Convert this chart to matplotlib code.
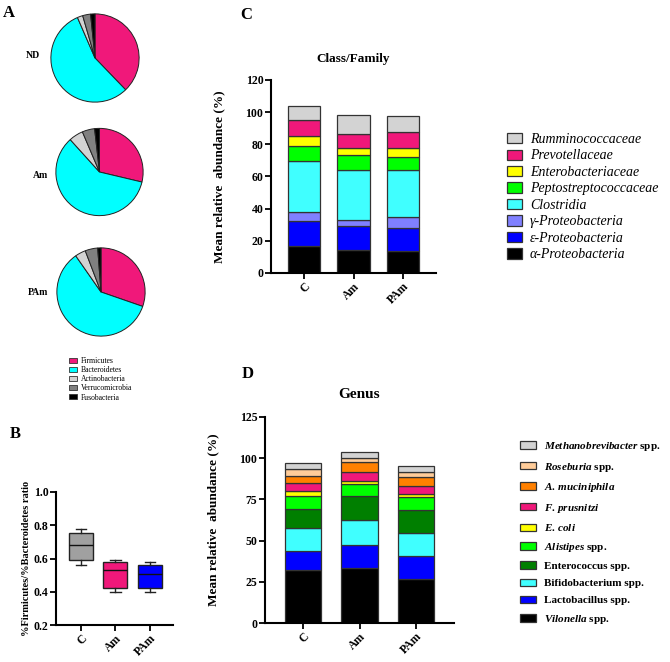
import matplotlib
matplotlib.use("Agg")
import matplotlib.pyplot as plt
import numpy as np
from matplotlib.patches import Patch

plt.rcParams['font.family'] = ['Liberation Serif', 'DejaVu Serif']
plt.rcParams['mathtext.fontset'] = 'custom'
plt.rcParams['mathtext.it'] = 'Liberation Serif:italic:bold'
plt.rcParams['mathtext.rm'] = 'Liberation Serif:bold'
plt.rcParams['mathtext.bf'] = 'Liberation Serif:bold'

# ---------------- data ----------------
pie_groups = ["ND", "Am", "PAm"]
phyla = ["Firmicutes", "Bacteroidetes", "Actinobacteria", "Verrucomicrobia", "Fusobacteria"]
pie_ND = [37.8, 55.7, 2.0, 2.9, 1.6]
pie_Am = [28.7, 59.6, 5.3, 4.6, 1.8]
pie_PAm = [30.3, 60.0, 3.9, 4.6, 1.2]
phyla_colors = ["#F0187A", "#00FFFF", "#D3D3D3", "#808080", "#000000"]

box_groups = ["C", "Am", "PAm"]
box_whislo = [0.560, 0.397, 0.397]
box_q1 = [0.592, 0.423, 0.423]
box_med = [0.680, 0.530, 0.504]
box_q3 = [0.753, 0.580, 0.558]
box_whishi = [0.779, 0.588, 0.578]
box_colors = ["#A0A0A0", "#F0187A", "#0000FF"]

bar_groups = ["C", "Am", "PAm"]
class_names = ["α-Proteobacteria", "ε-Proteobacteria", "γ-Proteobacteria",
               "Clostridia", "Peptostreptococcaceae", "Enterobacteriaceae",
               "Prevotellaceae", "Rumminococcaceae"]
class_C = [16.8, 15.4, 6.0, 31.7, 8.9, 6.3, 10.1, 8.5]
class_Am = [14.5, 14.5, 4.2, 31.1, 8.9, 4.6, 8.7, 11.6]
class_PAm = [13.9, 14.3, 6.7, 29.0, 8.1, 6.0, 9.4, 10.0]
class_colors = ["#000000", "#0000FF", "#8080FF", "#40FFFF", "#00FF00", "#FFFF00", "#F0187A", "#D3D3D3"]

genus_names = [r"$Vilonella$ spp.", "Lactobacillus spp.", "Bifidobacterium spp.",
               "Enterococcus spp.", r"$Alistipes$ spp.", r"$E.\,coli$",
               r"$F.\,prusnitzi$", r"$A.\,muciniphila$", r"$Roseburia$ spp.",
               r"$Methanobrevibacter$ spp."]
genus_C = [32.1, 11.6, 14.2, 11.4, 7.5, 3.3, 4.9, 4.0, 4.5, 3.7]
genus_Am = [33.5, 13.9, 15.2, 14.6, 7.1, 1.7, 5.7, 5.9, 2.8, 3.5]
genus_PAm = [26.7, 13.8, 14.1, 14.2, 7.7, 2.0, 4.4, 5.9, 2.6, 4.1]
genus_colors = ["#000000", "#0000FF", "#40FFFF", "#007F00", "#00FF00", "#FFFF00",
                "#F0187A", "#FF8000", "#FFCC99", "#D3D3D3"]

W, H = 670, 662
fig = plt.figure(figsize=(W / 100, H / 100), dpi=100)


def px_axes(left, top, right, bottom):
    return fig.add_axes([left / W, 1 - bottom / H, (right - left) / W, (bottom - top) / H])


def style_axes(ax, fs):
    for s in ["top", "right"]:
        ax.spines[s].set_visible(False)
    for s in ["left", "bottom"]:
        ax.spines[s].set_linewidth(1.5)
    ax.tick_params(width=1.3, length=4, labelsize=fs, pad=1.5)
    for t in ax.get_yticklabels() + ax.get_xticklabels():
        t.set_fontweight("bold")


# ---------------- A: pies ----------------
pie_pos = [(50, 13, 140, 103), (55, 127, 144, 217), (56, 247, 146, 337)]
pie_label_xy = [(33, 55), (41, 175), (38, 293)]
for vals, pos, g, lxy in zip([pie_ND, pie_Am, pie_PAm], pie_pos, pie_groups, pie_label_xy):
    ax = px_axes(*pos)
    ax.pie(vals, colors=phyla_colors, startangle=90, counterclock=False,
           wedgeprops=dict(edgecolor="#222222", linewidth=0.7))
    ax.set_xlim(-1.02, 1.02)
    ax.set_ylim(-1.02, 1.02)
    ax.set_aspect("equal")
    fig.text(lxy[0] / W, 1 - lxy[1] / H, g, ha="center", va="center", fontsize=7, fontweight="bold")

fig.legend([Patch(facecolor=c, edgecolor="#333333", linewidth=0.6) for c in phyla_colors], phyla,
           loc="upper left", bbox_to_anchor=(69 / W, 1 - 357 / H), frameon=False,
           fontsize=5.5, handlelength=1.1, handleheight=0.6, handletextpad=0.4,
           labelspacing=0.15, borderpad=0, borderaxespad=0)

fig.text(3 / W, 1 - 5 / H, "A", fontsize=12, fontweight="bold", va="top")
fig.text(10 / W, 1 - 426 / H, "B", fontsize=12, fontweight="bold", va="top")
fig.text(240 / W, 1 - 7 / H, "C", fontsize=12, fontweight="bold", va="top")
fig.text(242 / W, 1 - 366 / H, "D", fontsize=12, fontweight="bold", va="top")

# ---------------- B: box plot ----------------
axb = px_axes(56, 492, 173, 625)
stats = []
for i in range(len(box_groups)):
    stats.append(dict(med=box_med[i], q1=box_q1[i], q3=box_q3[i],
                      whislo=box_whislo[i], whishi=box_whishi[i], fliers=[], label=box_groups[i]))
bp = axb.bxp(stats, positions=np.arange(len(box_groups)), widths=0.69, capwidths=0.3,
             patch_artist=True, showfliers=False,
             boxprops=dict(linewidth=1.0, edgecolor="#222222"),
             medianprops=dict(color="#111111", linewidth=1.0),
             whiskerprops=dict(color="#222222", linewidth=1.0),
             capprops=dict(color="#222222", linewidth=1.0))
for patch, c in zip(bp["boxes"], box_colors):
    patch.set_facecolor(c)
axb.set_xlim(-0.72, 2.67)
axb.set_ylim(0.2, 1.0)
axb.set_yticks([0.2, 0.4, 0.6, 0.8, 1.0])
axb.set_yticklabels(["0.2", "0.4", "0.6", "0.8", "1.0"])
axb.set_xticks(np.arange(len(box_groups)))
axb.set_xticklabels(box_groups, rotation=45, ha="right", rotation_mode="anchor")
style_axes(axb, 8.5)
axb.set_ylabel("%Firmicutes/%Bacteroidetes ratio", fontsize=7.5, fontweight="bold")
axb.yaxis.set_label_coords(-0.21, 0.5)

# ---------------- C: class/family stacked bars ----------------
axc = px_axes(271, 80, 436, 273)
cdata = np.array([class_C, class_Am, class_PAm])
x = np.arange(len(bar_groups))
bottom = np.zeros(len(bar_groups))
handles_c = []
for j, (name, col) in enumerate(zip(class_names, class_colors)):
    b = axc.bar(x, cdata[:, j], bottom=bottom, width=0.66, color=col,
                edgecolor="#333333", linewidth=0.9, label=name)
    handles_c.append(b)
    bottom += cdata[:, j]
axc.set_xlim(-0.67, 2.67)
axc.set_ylim(0, 120)
axc.set_yticks(np.arange(0, 121, 20))
axc.set_xticks(x)
axc.set_xticklabels(bar_groups, rotation=45, ha="right", rotation_mode="anchor")
style_axes(axc, 8.5)
axc.set_ylabel("Mean relative  abundance (%)", fontsize=9.5, fontweight="bold")
axc.yaxis.set_label_coords(-0.28, 0.5)
axc.set_title("Class/Family", fontsize=9.5, fontweight="bold", pad=13)
legc = fig.legend(handles_c[::-1], class_names[::-1], loc="upper left",
                  bbox_to_anchor=(507 / W, 1 - 133 / H), frameon=False, fontsize=10,
                  handlelength=1.05, handleheight=0.75, handletextpad=0.6,
                  labelspacing=0.25, borderpad=0, borderaxespad=0)
for t in legc.get_texts():
    t.set_fontstyle("italic")

# ---------------- D: genus stacked bars ----------------
axd = px_axes(265, 417, 454, 623)
gdata = np.array([genus_C, genus_Am, genus_PAm])
bottom = np.zeros(len(bar_groups))
handles_d = []
for j, (name, col) in enumerate(zip(genus_names, genus_colors)):
    b = axd.bar(x, gdata[:, j], bottom=bottom, width=0.65, color=col,
                edgecolor="#333333", linewidth=0.9, label=name)
    handles_d.append(b)
    bottom += gdata[:, j]
axd.set_xlim(-0.67, 2.67)
axd.set_ylim(0, 125)
axd.set_yticks(np.arange(0, 126, 25))
axd.set_xticks(x)
axd.set_xticklabels(bar_groups, rotation=45, ha="right", rotation_mode="anchor")
style_axes(axd, 8.5)
axd.set_ylabel("Mean relative  abundance (%)", fontsize=9.5, fontweight="bold")
axd.yaxis.set_label_coords(-0.24, 0.5)
axd.set_title("Genus", fontsize=11, fontweight="bold", pad=14)
legd = fig.legend(handles_d[::-1], genus_names[::-1], loc="upper left",
                  bbox_to_anchor=(520 / W, 1 - 440 / H), frameon=False, fontsize=8,
                  handlelength=1.4, handleheight=0.65, handletextpad=0.8,
                  labelspacing=0.68, borderpad=0, borderaxespad=0)
for t in legd.get_texts():
    t.set_fontweight("bold")

fig.savefig("out.png", dpi=100)
